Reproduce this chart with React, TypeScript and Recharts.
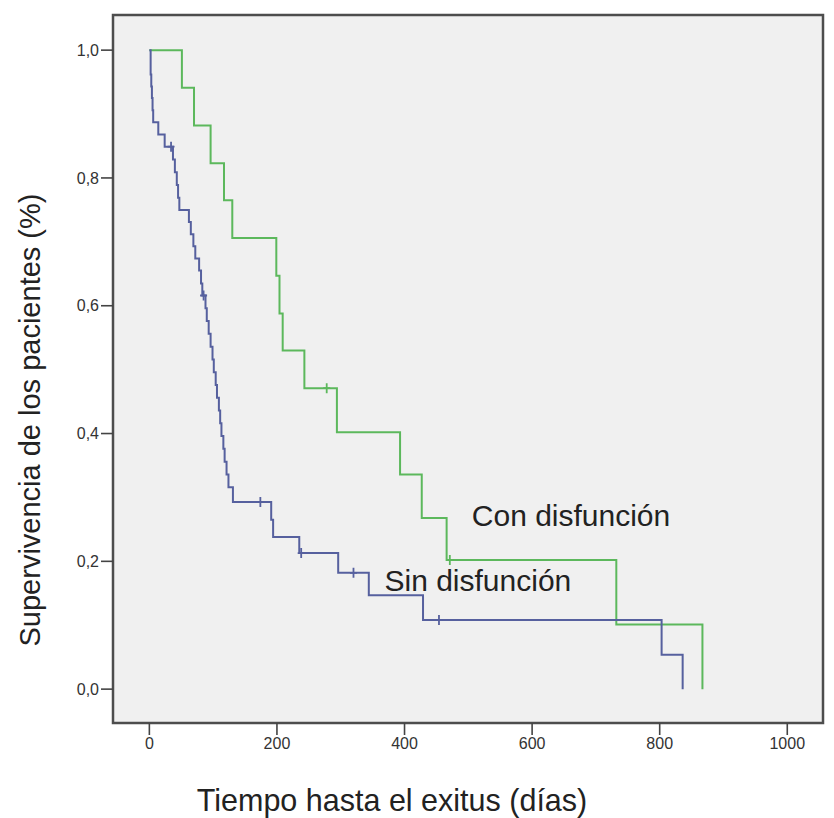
import {
  ComposedChart,
  Label,
  Line,
  ReferenceArea,
  ReferenceDot,
  Scatter,
  XAxis,
  YAxis,
} from "recharts";

// Kaplan-Meier curves (days, survival)
const sinTimes = [
  0, 2, 3, 4, 5, 6, 14, 24, 37, 40, 43, 45, 47, 62, 65, 69, 72, 78, 81, 83, 88,
  90, 93, 96, 99, 101, 104, 106, 109, 111, 113, 116, 118, 121, 124, 131, 191,
  194, 235, 296, 344, 429, 803, 836,
];
const sinSurv = [
  1.0, 0.962, 0.943, 0.925, 0.906, 0.887, 0.868, 0.849, 0.829, 0.809, 0.789,
  0.769, 0.75, 0.731, 0.712, 0.693, 0.674, 0.655, 0.635, 0.616, 0.596, 0.576,
  0.556, 0.536, 0.516, 0.496, 0.476, 0.456, 0.436, 0.416, 0.396, 0.376, 0.356,
  0.336, 0.316, 0.293, 0.265, 0.238, 0.213, 0.182, 0.147, 0.108, 0.054, 0,
];
const sinCensorTimes = [34, 85, 174, 238, 320, 454];
const sinCensorSurv = [0.849, 0.616, 0.293, 0.213, 0.182, 0.108];

const conTimes = [0, 51, 70, 96, 117, 130, 199, 204, 209, 243, 294, 393, 427, 466, 732, 867];
const conSurv = [
  1.0, 0.941, 0.882, 0.823, 0.765, 0.706, 0.647, 0.588, 0.53, 0.471, 0.402,
  0.336, 0.268, 0.202, 0.101, 0,
];
const conCensorTimes = [278, 471];
const conCensorSurv = [0.471, 0.202];

const xTicks = [0, 200, 400, 600, 800, 1000];
const yTicks = [0, 0.2, 0.4, 0.6, 0.8, 1.0];
const xDomain = [-57, 1056];
const yDomain = [-0.053, 1.055];

const BLUE = "#56609e";
const GREEN = "#5cb85c";
const FONT = "'Liberation Sans', Arial, sans-serif";

const zip = (t: number[], s: number[]) => t.map((v, i) => ({ t: v, s: s[i] }));
const sinData = zip(sinTimes, sinSurv);
const conData = zip(conTimes, conSurv);
const sinCensor = zip(sinCensorTimes, sinCensorSurv);
const conCensor = zip(conCensorTimes, conCensorSurv);

function censorMark(color: string) {
  return (props: any) => {
    const { cx, cy } = props;
    return (
      <path
        d={`M${cx},${cy - 5}V${cy + 5}M${cx - 3.5},${cy}H${cx + 3.5}`}
        stroke={color}
        strokeWidth={1.8}
        fill="none"
      />
    );
  };
}

export default function App() {
  return (
    <div style={{ position: "absolute", left: 0, top: 0, background: "#fff" }}>
      <ComposedChart
        width={834}
        height={818}
        margin={{ top: 15, right: 11, bottom: 55, left: 0 }}
      >
        <ReferenceArea
          x1={xDomain[0]}
          x2={xDomain[1]}
          y1={yDomain[0]}
          y2={yDomain[1]}
          fill="#f0f0f0"
          fillOpacity={1}
          stroke="#4d4d4d"
          strokeWidth={2.5}
        />
        <XAxis
          dataKey="t"
          type="number"
          domain={xDomain}
          ticks={xTicks}
          allowDataOverflow
          height={40}
          axisLine={false}
          tickSize={12}
          tickMargin={3}
          tickLine={{ stroke: "#444", strokeWidth: 1.6 }}
          tick={{ fontSize: 16, fill: "#333", fontFamily: FONT }}
        >
          <Label
            content={(p: any) => (
              <text
                x={p.viewBox.x + 279}
                y={p.viewBox.y + 88}
                textAnchor="middle"
                fontSize={30.5}
                fill="#222"
                fontFamily={FONT}
              >
                Tiempo hasta el exitus (días)
              </text>
            )}
          />
        </XAxis>
        <YAxis
          type="number"
          domain={yDomain}
          ticks={yTicks}
          allowDataOverflow
          width={113}
          axisLine={false}
          tickSize={12}
          tickMargin={2}
          tickLine={{ stroke: "#444", strokeWidth: 1.6 }}
          tick={{ fontSize: 16, fill: "#333", fontFamily: FONT }}
          tickFormatter={(v: number) => v.toFixed(1).replace(".", ",")}
        >
          <Label
            content={(p: any) => {
              const x = p.viewBox.x + 40;
              const y = 420;
              return (
                <text
                  x={x}
                  y={y}
                  transform={`rotate(-90 ${x} ${y})`}
                  textAnchor="middle"
                  fontSize={29}
                  fill="#222"
                  fontFamily={FONT}
                >
                  Supervivencia de los pacientes (%)
                </text>
              );
            }}
          />
        </YAxis>
        <Line
          data={conData}
          dataKey="s"
          type="stepAfter"
          stroke={GREEN}
          strokeWidth={2}
          dot={false}
          activeDot={false}
          isAnimationActive={false}
        />
        <Line
          data={sinData}
          dataKey="s"
          type="stepAfter"
          stroke={BLUE}
          strokeWidth={2}
          dot={false}
          activeDot={false}
          isAnimationActive={false}
        />
        <Scatter
          data={conCensor}
          dataKey="s"
          shape={censorMark(GREEN)}
          isAnimationActive={false}
        />
        <Scatter
          data={sinCensor}
          dataKey="s"
          shape={censorMark(BLUE)}
          isAnimationActive={false}
        />
        <ReferenceDot
          x={661}
          y={0.272}
          r={0}
          label={{
            value: "Con disfunción",
            position: "center",
            fontSize: 30,
            fill: "#222",
            fontFamily: FONT,
          }}
        />
        <ReferenceDot
          x={515}
          y={0.171}
          r={0}
          label={{
            value: "Sin disfunción",
            position: "center",
            fontSize: 30,
            fill: "#222",
            fontFamily: FONT,
          }}
        />
      </ComposedChart>
    </div>
  );
}
